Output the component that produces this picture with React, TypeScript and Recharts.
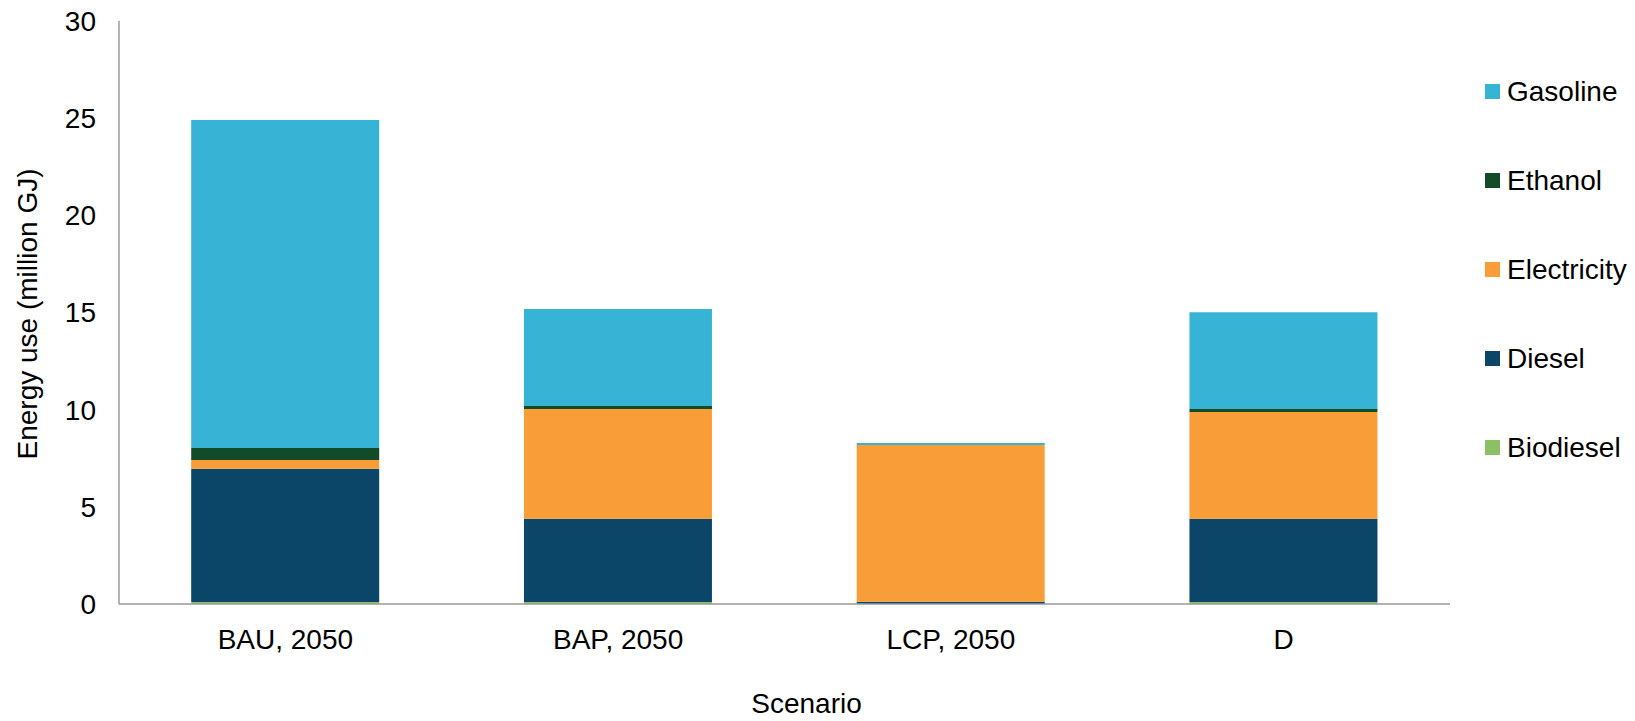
import React from "react";
import { BarChart, Bar, XAxis, YAxis, Label } from "recharts";

const categories = ["BAU, 2050", "BAP, 2050", "LCP, 2050", "D"];

const biodiesel = [0.1, 0.1, 0, 0.1];
const diesel = [6.86, 4.29, 0.12, 4.29];
const electricity = [0.45, 5.65, 8.06, 5.49];
const ethanol = [0.62, 0.15, 0, 0.16];
const gasoline = [16.87, 4.99, 0.11, 4.97];

const yTicks = [0, 5, 10, 15, 20, 25, 30];

// stacking order, bottom to top
const SERIES = [
  { key: "Biodiesel", values: biodiesel, color: "#8BC064" },
  { key: "Diesel", values: diesel, color: "#0B4669" },
  { key: "Electricity", values: electricity, color: "#F89D37" },
  { key: "Ethanol", values: ethanol, color: "#114B28" },
  { key: "Gasoline", values: gasoline, color: "#36B3D5" },
];

const FONT = "'Liberation Sans', Arial, sans-serif";
const FONT_SIZE = 28;
const AXIS_COLOR = "#9a9a9a";

const chartData = categories.map((name, i) => {
  const row: Record<string, string | number> = { name };
  SERIES.forEach((s) => {
    row[s.key] = s.values[i];
  });
  return row;
});

function LegendList() {
  const items = [...SERIES].reverse();
  return (
    <div
      style={{
        position: "absolute",
        left: 1485,
        top: 47,
        fontFamily: FONT,
        fontSize: FONT_SIZE,
        color: "#000",
      }}
    >
      {items.map((s) => (
        <div
          key={s.key}
          style={{ height: 89, display: "flex", alignItems: "center" }}
        >
          <span
            style={{
              display: "inline-block",
              width: 15,
              height: 15,
              background: s.color,
              marginRight: 7,
            }}
          />
          <span>{s.key}</span>
        </div>
      ))}
    </div>
  );
}

export default function App() {
  return (
    <div
      style={{
        position: "fixed",
        left: 0,
        top: 0,
        width: 1635,
        height: 721,
        background: "#fff",
      }}
    >
      <BarChart
        width={1635}
        height={721}
        data={chartData}
        margin={{ top: 21, right: 185, bottom: 0, left: 0 }}
        barCategoryGap="21.7%"
      >
        <XAxis
          dataKey="name"
          height={117}
          tickLine={false}
          tickSize={0}
          tickMargin={25}
          stroke={AXIS_COLOR}
          strokeWidth={1.5}
          tick={{ fill: "#000", fontSize: FONT_SIZE, fontFamily: FONT }}
        >
          <Label
            value="Scenario"
            position="insideBottom"
            offset={8}
            dx={22}
            style={{ fill: "#000", fontSize: FONT_SIZE, fontFamily: FONT }}
          />
        </XAxis>
        <YAxis
          width={119}
          domain={[0, 30]}
          ticks={yTicks}
          interval={0}
          tickLine={false}
          tickSize={0}
          tickMargin={23}
          stroke={AXIS_COLOR}
          strokeWidth={1.5}
          tick={{ fill: "#000", fontSize: FONT_SIZE, fontFamily: FONT }}
        >
          <Label
            content={() => (
              <text
                transform="translate(27, 314) rotate(-90)"
                textAnchor="middle"
                dominantBaseline="central"
                style={{ fill: "#000", fontSize: FONT_SIZE, fontFamily: FONT }}
              >
                Energy use (million GJ)
              </text>
            )}
          />
        </YAxis>
        {SERIES.map((s) => (
          <Bar
            key={s.key}
            dataKey={s.key}
            stackId="a"
            fill={s.color}
            isAnimationActive={false}
          />
        ))}
      </BarChart>
      <LegendList />
    </div>
  );
}
